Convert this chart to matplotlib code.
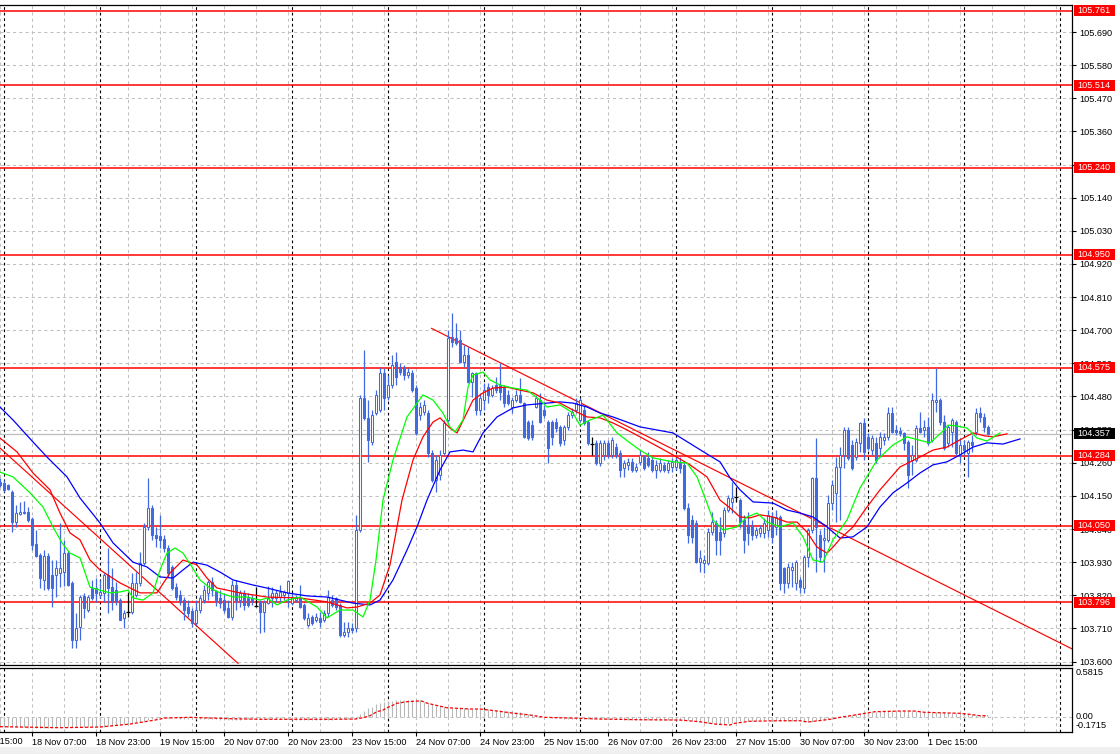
#!/usr/bin/env python3
"""
plot.py - H1 candle chart with Alligator lines, levels and a lower oscillator panel.
Writes out.png (1120x754).
"""

import numpy as np
import matplotlib
matplotlib.use("Agg")
import matplotlib.pyplot as plt
import matplotlib.transforms as mtransforms
from matplotlib.patches import Rectangle

plt.rcParams["font.family"] = ["Liberation Sans", "DejaVu Sans"]

# ---------------------------------------------------------------------------
# Candles (bar 0 = 17 Nov 23:00, one bar per hour, weekends skipped)
# ---------------------------------------------------------------------------
opens = [
    104.196, 104.193, 104.186, 104.163, 104.063, 104.090, 104.093, 104.097, 104.073, 103.990,
    103.954, 103.871, 103.950, 103.887, 103.887, 103.894, 103.897, 103.960, 103.861, 103.671,
    103.715, 103.818, 103.771, 103.844, 103.844, 103.821, 103.828, 103.887, 103.847, 103.837,
    103.804, 103.745, 103.765, 103.765, 103.821, 103.861, 103.927, 104.047, 104.110, 104.020,
    104.017, 104.007, 103.977, 103.914, 103.847, 103.821, 103.804, 103.781, 103.768, 103.728,
    103.771, 103.804, 103.828, 103.864, 103.834, 103.811, 103.804, 103.778, 103.748, 103.854,
    103.804, 103.828, 103.811, 103.811, 103.785, 103.794, 103.765, 103.794, 103.811, 103.811,
    103.814, 103.821, 103.828, 103.794, 103.804, 103.811, 103.788, 103.721, 103.748, 103.738,
    103.745, 103.738, 103.761, 103.804, 103.811, 103.788, 103.688, 103.698, 103.711, 103.711,
    104.037, 104.475, 104.409, 104.329, 104.425, 104.435, 104.558, 104.478, 104.518, 104.594,
    104.578, 104.575, 104.551, 104.558, 104.508, 104.418, 104.428, 104.425, 104.292, 104.203,
    104.219, 104.292, 104.402, 104.678, 104.674, 104.668, 104.594, 104.618, 104.528, 104.558,
    104.435, 104.468, 104.511, 104.485, 104.518, 104.518, 104.508, 104.485, 104.445, 104.468,
    104.485, 104.458, 104.395, 104.385, 104.445, 104.468, 104.435, 104.395, 104.395, 104.395,
    104.379, 104.336, 104.379, 104.418, 104.435, 104.402, 104.435, 104.395, 104.322, 104.326,
    104.259, 104.286, 104.326, 104.286, 104.312, 104.292, 104.243, 104.253, 104.263, 104.236,
    104.263, 104.279, 104.276, 104.269, 104.236, 104.236, 104.253, 104.236, 104.246, 104.246,
    104.259, 104.253, 104.110, 104.070, 104.060, 103.930, 103.927, 103.927, 104.030, 104.060,
    104.030, 104.027, 104.103, 104.130, 104.146, 104.136, 104.070, 104.053, 104.053, 104.020,
    104.027, 104.027, 104.037, 104.080, 104.047, 104.080, 103.911, 103.861, 103.904, 103.861,
    103.871, 103.844, 103.947, 104.037, 104.209, 104.020, 104.004, 104.004, 104.126, 104.160,
    104.246, 104.286, 104.369, 104.319, 104.279, 104.326, 104.392, 104.346, 104.302, 104.326,
    104.309, 104.336, 104.346, 104.425, 104.369, 104.365, 104.359, 104.329, 104.269, 104.269,
    104.375, 104.369, 104.379, 104.336, 104.462, 104.468, 104.395, 104.326, 104.362, 104.395,
    104.286, 104.319, 104.292, 104.329, 104.362, 104.425, 104.412, 104.379,
]
highs = [
    104.209, 104.203, 104.189, 104.170, 104.120, 104.130, 104.133, 104.113, 104.080, 104.037,
    103.960, 103.970, 103.960, 103.937, 103.937, 104.060, 104.004, 103.967, 103.867, 103.761,
    103.821, 103.828, 103.821, 103.871, 103.877, 103.871, 103.894, 103.977, 103.911, 103.864,
    103.811, 103.771, 103.831, 103.894, 103.897, 103.964, 104.060, 104.209, 104.120, 104.047,
    104.087, 104.020, 103.987, 103.921, 103.861, 103.837, 103.814, 103.804, 103.778, 103.804,
    103.821, 103.854, 103.871, 103.881, 103.837, 103.837, 103.828, 103.804, 103.871, 103.871,
    103.837, 103.837, 103.828, 103.821, 103.847, 103.804, 103.804, 103.851, 103.847, 103.837,
    103.854, 103.837, 103.871, 103.828, 103.821, 103.854, 103.794, 103.761, 103.755, 103.761,
    103.765, 103.771, 103.837, 103.821, 103.814, 103.794, 103.731, 103.731, 103.728, 104.087,
    104.485, 104.634, 104.468, 104.435, 104.501, 104.578, 104.575, 104.551, 104.618, 104.628,
    104.591, 104.585, 104.575, 104.568, 104.518, 104.462, 104.468, 104.435, 104.302, 104.286,
    104.302, 104.402, 104.701, 104.757, 104.724, 104.701, 104.651, 104.644, 104.561, 104.561,
    104.491, 104.525, 104.525, 104.518, 104.545, 104.591, 104.518, 104.501, 104.478, 104.501,
    104.541, 104.462, 104.402, 104.402, 104.485, 104.492, 104.452, 104.402, 104.402, 104.409,
    104.385, 104.385, 104.428, 104.442, 104.475, 104.475, 104.452, 104.402, 104.346, 104.336,
    104.336, 104.336, 104.336, 104.346, 104.326, 104.302, 104.269, 104.276, 104.276, 104.259,
    104.302, 104.286, 104.296, 104.279, 104.269, 104.276, 104.263, 104.269, 104.276, 104.279,
    104.279, 104.263, 104.126, 104.087, 104.070, 103.970, 103.954, 104.043, 104.097, 104.070,
    104.080, 104.113, 104.153, 104.196, 104.180, 104.143, 104.087, 104.097, 104.070, 104.047,
    104.053, 104.077, 104.103, 104.097, 104.103, 104.087, 103.914, 103.927, 103.930, 103.937,
    103.881, 103.954, 104.043, 104.213, 104.342, 104.037, 104.047, 104.153, 104.203, 104.279,
    104.312, 104.379, 104.379, 104.336, 104.342, 104.395, 104.409, 104.359, 104.352, 104.346,
    104.362, 104.359, 104.445, 104.445, 104.385, 104.379, 104.362, 104.336, 104.319, 104.385,
    104.428, 104.402, 104.412, 104.492, 104.575, 104.475, 104.418, 104.385, 104.409, 104.402,
    104.342, 104.336, 104.336, 104.352, 104.442, 104.445, 104.425, 104.385,
]
lows = [
    104.180, 104.163, 104.170, 104.030, 104.047, 104.087, 104.090, 104.063, 103.970, 103.947,
    103.844, 103.837, 103.837, 103.781, 103.814, 103.847, 103.851, 103.851, 103.645, 103.645,
    103.671, 103.745, 103.765, 103.804, 103.798, 103.811, 103.798, 103.761, 103.771, 103.788,
    103.738, 103.711, 103.748, 103.758, 103.814, 103.851, 103.921, 104.037, 104.004, 103.980,
    103.977, 103.964, 103.881, 103.837, 103.804, 103.788, 103.738, 103.748, 103.715, 103.721,
    103.761, 103.794, 103.804, 103.818, 103.785, 103.778, 103.761, 103.745, 103.738, 103.771,
    103.781, 103.771, 103.781, 103.788, 103.781, 103.695, 103.698, 103.791, 103.781, 103.798,
    103.798, 103.804, 103.781, 103.788, 103.798, 103.778, 103.738, 103.715, 103.721, 103.731,
    103.715, 103.731, 103.748, 103.781, 103.771, 103.682, 103.682, 103.682, 103.695, 103.698,
    104.030, 104.402, 104.263, 104.319, 104.418, 104.428, 104.435, 104.468, 104.508, 104.518,
    104.551, 104.535, 104.541, 104.495, 104.352, 104.402, 104.418, 104.279, 104.196, 104.163,
    104.203, 104.286, 104.395, 104.644, 104.651, 104.591, 104.578, 104.525, 104.478, 104.418,
    104.418, 104.435, 104.458, 104.478, 104.492, 104.468, 104.445, 104.452, 104.425, 104.462,
    104.458, 104.342, 104.336, 104.336, 104.442, 104.392, 104.409, 104.259, 104.319, 104.362,
    104.316, 104.319, 104.369, 104.409, 104.425, 104.395, 104.385, 104.319, 104.286, 104.253,
    104.249, 104.269, 104.276, 104.276, 104.276, 104.213, 104.213, 104.236, 104.229, 104.229,
    104.253, 104.236, 104.246, 104.229, 104.209, 104.229, 104.229, 104.226, 104.229, 104.236,
    104.226, 104.103, 103.994, 103.994, 103.927, 103.897, 103.894, 103.921, 104.020, 103.954,
    103.954, 104.014, 104.097, 104.093, 104.130, 104.043, 103.960, 103.987, 104.004, 104.010,
    104.014, 104.010, 104.014, 103.994, 104.020, 103.837, 103.828, 103.844, 103.847, 103.837,
    103.828, 103.828, 103.914, 104.027, 103.897, 103.930, 103.897, 103.997, 104.103, 104.063,
    104.070, 104.243, 104.269, 104.236, 104.269, 104.296, 104.269, 104.302, 104.286, 104.259,
    104.279, 104.319, 104.336, 104.359, 104.352, 104.349, 104.302, 104.176, 104.219, 104.263,
    104.359, 104.346, 104.319, 104.329, 104.428, 104.385, 104.302, 104.312, 104.312, 104.286,
    104.259, 104.286, 104.213, 104.296, 104.352, 104.395, 104.362, 104.352,
]
closes = [
    104.186, 104.170, 104.173, 104.063, 104.093, 104.097, 104.097, 104.070, 103.987, 103.950,
    103.877, 103.950, 103.844, 103.844, 103.911, 103.911, 103.960, 103.854, 103.671, 103.711,
    103.814, 103.778, 103.814, 103.811, 103.828, 103.831, 103.887, 103.844, 103.798, 103.798,
    103.738, 103.761, 103.765, 103.861, 103.861, 103.927, 104.047, 104.110, 104.020, 104.010,
    104.004, 103.977, 103.894, 103.844, 103.814, 103.798, 103.771, 103.761, 103.728, 103.771,
    103.811, 103.837, 103.864, 103.837, 103.804, 103.794, 103.771, 103.748, 103.854, 103.804,
    103.828, 103.788, 103.788, 103.798, 103.785, 103.765, 103.798, 103.811, 103.828, 103.828,
    103.831, 103.831, 103.867, 103.814, 103.811, 103.781, 103.745, 103.745, 103.728, 103.748,
    103.731, 103.761, 103.814, 103.788, 103.781, 103.688, 103.698, 103.711, 103.705, 104.037,
    104.475, 104.409, 104.336, 104.418, 104.485, 104.558, 104.475, 104.518, 104.585, 104.545,
    104.561, 104.551, 104.561, 104.501, 104.359, 104.445, 104.452, 104.292, 104.203, 104.269,
    104.286, 104.392, 104.674, 104.661, 104.658, 104.594, 104.618, 104.528, 104.558, 104.435,
    104.475, 104.501, 104.485, 104.508, 104.501, 104.495, 104.458, 104.458, 104.468, 104.485,
    104.462, 104.346, 104.342, 104.346, 104.475, 104.395, 104.418, 104.309, 104.346, 104.375,
    104.326, 104.379, 104.418, 104.428, 104.458, 104.468, 104.392, 104.326, 104.322, 104.259,
    104.326, 104.326, 104.286, 104.336, 104.286, 104.236, 104.259, 104.263, 104.236, 104.246,
    104.286, 104.243, 104.253, 104.236, 104.253, 104.259, 104.236, 104.259, 104.263, 104.269,
    104.243, 104.110, 104.020, 104.014, 103.930, 103.944, 103.937, 104.030, 104.063, 104.004,
    104.004, 104.103, 104.143, 104.143, 104.146, 104.063, 104.004, 104.027, 104.020, 104.037,
    104.043, 104.060, 104.087, 104.014, 104.080, 103.861, 103.861, 103.914, 103.914, 103.930,
    103.847, 103.947, 104.037, 104.209, 104.047, 103.947, 104.010, 104.126, 104.186, 104.246,
    104.286, 104.369, 104.276, 104.243, 104.329, 104.392, 104.296, 104.309, 104.342, 104.269,
    104.346, 104.346, 104.425, 104.362, 104.362, 104.359, 104.326, 104.219, 104.286, 104.375,
    104.362, 104.379, 104.326, 104.468, 104.468, 104.395, 104.309, 104.379, 104.402, 104.292,
    104.319, 104.302, 104.329, 104.319, 104.425, 104.412, 104.379, 104.357,
]

# Alligator lines (bar position, price)
jaw_x = [0, 3.25, 8.25, 11.75, 16.75, 20, 25, 28.25, 33.25, 36.75,
         40, 43.25, 45.75, 48.25, 51.75, 55, 58.25, 63.25, 66.75, 71.75,
         76.75, 81.75, 85, 88.25, 92.5, 95, 98.25, 101.75, 104.25, 106.75,
         110, 112.5, 115.75, 118.25, 120.75, 124.25, 128.25, 131.75, 136.75, 140,
         143.25, 146.75, 150, 153.25, 156.75, 160, 168.25, 176.75, 180, 182.5,
         185, 188.25, 193.25, 196.75, 200, 203.25, 206.75, 210, 213.25, 216.75,
         220, 223.25, 226.75, 230, 233.25, 236.75, 240, 243.25, 246.75, 250.75, 255]
jaw_y = [104.445, 104.402, 104.329, 104.279, 104.213, 104.143, 104.060, 103.994, 103.930, 103.914,
         103.881, 103.877, 103.904, 103.930, 103.920, 103.897, 103.871, 103.854, 103.844, 103.828,
         103.818, 103.814, 103.804, 103.794, 103.788, 103.804, 103.871, 103.970, 104.047, 104.136,
         104.236, 104.296, 104.302, 104.296, 104.359, 104.412, 104.442, 104.452, 104.458, 104.462,
         104.458, 104.445, 104.425, 104.412, 104.395, 104.379, 104.359, 104.289, 104.263, 104.210,
         104.170, 104.130, 104.126, 104.103, 104.093, 104.080, 104.047, 104.010, 104.014, 104.047,
         104.113, 104.160, 104.193, 104.226, 104.253, 104.263, 104.286, 104.312, 104.326, 104.322, 104.339]

teeth_x = [0, 4.25, 8.25, 12.5, 15, 17.5, 20, 22.5, 25, 30,
           35, 39.25, 42.5, 45.75, 49.25, 51.75, 54.25, 60, 66.75, 75,
           81.75, 86.75, 89.25, 92.5, 95, 97.5, 100.5, 103.25, 105.75, 108.25,
           110, 112.5, 114.25, 118.25, 120.75, 123.25, 126.75, 130, 133.25, 136.75,
           140, 143.25, 146.75, 150, 153.25, 156.75, 160, 168.25, 172.5, 176.75,
           180, 182.5, 185, 187.5, 190, 193.25, 196.75, 199.25, 201.75, 204.25,
           206.75, 208.25, 210, 213.25, 216.75, 220, 225, 230, 233.25, 236.75,
           240, 243.25, 246.25, 248.25, 251.75]
teeth_y = [104.342, 104.296, 104.226, 104.170, 104.093, 104.027, 104.004, 103.937, 103.904, 103.861,
           103.828, 103.828, 103.894, 103.937, 103.921, 103.877, 103.844, 103.828, 103.814, 103.811,
           103.798, 103.778, 103.781, 103.794, 103.821, 103.921, 104.136, 104.269, 104.346, 104.395,
           104.409, 104.375, 104.359, 104.468, 104.492, 104.508, 104.511, 104.501, 104.492, 104.468,
           104.458, 104.435, 104.412, 104.409, 104.392, 104.369, 104.346, 104.286, 104.253, 104.213,
           104.136, 104.110, 104.080, 104.077, 104.087, 104.080, 104.063, 104.063, 104.030, 103.980,
           103.960, 103.980, 104.007, 104.047, 104.113, 104.170, 104.246, 104.279, 104.302, 104.312,
           104.336, 104.359, 104.349, 104.346, 104.356]

lips_x = [0, 3.25, 7.5, 10.75, 13.25, 15.5, 17.5, 20, 22.5, 25,
          27.5, 30, 32, 33.25, 35.75, 38.25, 40, 41.75, 43.75, 45.75,
          48, 50, 52.5, 55, 58.25, 61.75, 65, 66.75, 69.25, 71.75,
          75, 79.25, 81.75, 85, 88.25, 90.75, 92.5, 94, 95.75, 98.25,
          101.75, 105.75, 108.25, 110.75, 112.5, 113.75, 115.75, 117, 118.25, 120.75,
          122.5, 125, 128.25, 131.75, 135, 136.75, 140, 143.25, 145, 147.5,
          150.75, 154.25, 157.5, 160, 163.25, 168.25, 171.75, 174.25, 176.75, 178.25,
          180.75, 184.25, 186.75, 189.25, 191.75, 195, 198.25, 200.75, 203.25, 205.75,
          208.25, 211.75, 215, 219.25, 223.25, 226.75, 229.5, 232.5, 235.5, 237,
          239.25, 241.75, 244.25, 246.75, 250]
lips_y = [104.229, 104.213, 104.160, 104.113, 104.047, 103.994, 103.960, 103.944, 103.847, 103.837,
          103.828, 103.831, 103.837, 103.811, 103.804, 103.828, 103.904, 103.960, 103.977, 103.960,
          103.914, 103.871, 103.844, 103.828, 103.814, 103.814, 103.804, 103.811, 103.788, 103.804,
          103.814, 103.781, 103.745, 103.771, 103.771, 103.748, 103.804, 103.937, 104.136, 104.269,
          104.412, 104.485, 104.468, 104.425, 104.379, 104.362, 104.402, 104.511, 104.551, 104.561,
          104.535, 104.518, 104.508, 104.501, 104.468, 104.445, 104.452, 104.425, 104.385, 104.402,
          104.418, 104.359, 104.326, 104.302, 104.276, 104.263, 104.259, 104.213, 104.126, 104.070,
          104.037, 104.047, 104.080, 104.093, 104.063, 104.047, 104.060, 104.014, 103.937, 103.930,
          104.004, 104.070, 104.176, 104.269, 104.319, 104.346, 104.336, 104.326, 104.362, 104.385,
          104.382, 104.375, 104.342, 104.332, 104.359]

# Drawn objects: horizontal levels and two trend lines
levels = [105.761, 105.514, 105.240, 104.950, 104.575, 104.284, 104.050, 103.796]
bid = 104.357
trend1_x = [-10, 59.5]
trend1_y = [104.429, 103.594]
trend2_x = [107.9, 268]
trend2_y = [104.706, 103.642]

# Time axis labels
time_ticks = [-8, 8, 24, 40, 56, 72, 88, 104, 120, 136, 152, 168, 184, 200, 216, 232]
time_labels = ["17 Nov 15:00", "18 Nov 07:00", "18 Nov 23:00", "19 Nov 15:00", "20 Nov 07:00",
               "20 Nov 23:00", "23 Nov 15:00", "24 Nov 07:00", "24 Nov 23:00", "25 Nov 15:00",
               "26 Nov 07:00", "26 Nov 23:00", "27 Nov 15:00", "30 Nov 07:00", "30 Nov 23:00",
               "1 Dec 15:00"]
day_starts = [1, 25, 49, 73, 97, 121, 145, 169, 193, 217, 241, 265]

# Lower oscillator: histogram per bar plus its signal line
hist = [
    -0.108, -0.110, -0.112, -0.113, -0.115, -0.116, -0.118, -0.120, -0.121, -0.122,
    -0.121, -0.120, -0.120, -0.119, -0.118, -0.118, -0.117, -0.116, -0.115, -0.115,
    -0.114, -0.113, -0.113, -0.112, -0.111, -0.110, -0.108, -0.105, -0.100, -0.095,
    -0.090, -0.082,
    -0.075, -0.066, -0.057, -0.048, -0.040, -0.031, -0.022, -0.015, -0.008,
    -0.006, -0.008, -0.010, -0.012, -0.014, -0.016, -0.018,
    -0.020, -0.021, -0.022, -0.022, -0.023, -0.024, -0.024, -0.025, -0.025, -0.026,
    -0.026, -0.025, -0.025, -0.024, -0.024, -0.023, -0.023, -0.022, -0.022, -0.022,
    -0.022, -0.023, -0.023, -0.024, -0.024, -0.025, -0.025, -0.026, -0.026, -0.027,
    -0.027, -0.027, -0.026, -0.026, -0.025, -0.025, -0.024, -0.024, -0.023, -0.023,
    -0.022, -0.015,
    0.036, 0.075, 0.110, 0.126, 0.154, 0.166, 0.185, 0.193, 0.193, 0.200,
    0.200, 0.205, 0.205, 0.205, 0.205, 0.200, 0.185, 0.166, 0.154, 0.140,
    0.130, 0.126, 0.120, 0.115, 0.115, 0.110, 0.108, 0.106, 0.104, 0.102,
    0.100, 0.098, 0.095, 0.092, 0.088, 0.084, 0.080, 0.075, 0.070, 0.064,
    0.058, 0.050, 0.043, 0.035, 0.026, 0.017,
    0.008, 0.002, -0.004, -0.008, -0.011, -0.013, -0.015, -0.016, -0.017, -0.018,
    -0.019, -0.020, -0.020, -0.021, -0.022, -0.022, -0.023, -0.023, -0.024, -0.024,
    -0.025, -0.025, -0.026, -0.026, -0.027, -0.027, -0.028, -0.028, -0.029, -0.029,
    -0.030, -0.030, -0.031, -0.031, -0.032, -0.033, -0.035,
    -0.040, -0.046, -0.052, -0.058, -0.064, -0.069, -0.073, -0.075, -0.074, -0.068,
    -0.060, -0.052, -0.046,
    -0.042, -0.040, -0.038, -0.037, -0.036, -0.036, -0.036, -0.037, -0.037, -0.038,
    -0.038, -0.039, -0.040, -0.042, -0.045, -0.049, -0.053, -0.052, -0.045, -0.036,
    -0.027, -0.018, -0.010, -0.002, 0.006,
    0.014, 0.022, 0.030, 0.038, 0.045, 0.052, 0.058, 0.063, 0.067, 0.070,
    0.072, 0.074, 0.075, 0.076, 0.076, 0.076, 0.075, 0.075, 0.074, 0.072,
    0.069, 0.066, 0.064, 0.062, 0.060, 0.058, 0.056, 0.054, 0.052, 0.049,
    0.045, 0.041, 0.037, 0.033, 0.028, 0.024, 0.020,
]
sig_x = [0, 15, 25, 32.5, 38.75, 41.25, 47.5, 57.5, 65, 82.5,
         88.75, 90.8, 92.5, 94.2, 95.8, 96.7, 98, 99.2, 101.7, 104.2,
         105.4, 106.7, 108.7, 111.7, 117.5, 120, 123.7, 127.5, 132.5, 136.2,
         142.5, 150, 160, 170, 175, 178.7, 182.5, 183.7, 187.5, 195,
         200, 202, 207.5, 210, 213.7, 216.2, 218.7, 225, 228.7, 231.2,
         240, 242.5, 245, 247]
sig_y = [-0.109, -0.121, -0.113, -0.078, -0.031, -0.007, 0.001, -0.015, -0.022, -0.022,
         -0.019, -0.004, 0.020, 0.067, 0.087, 0.114, 0.138, 0.166, 0.185, 0.193,
         0.193, 0.169, 0.146, 0.114, 0.099, 0.099, 0.079, 0.055, 0.028, 0.001,
         -0.007, -0.019, -0.027, -0.031, -0.051, -0.078, -0.089, -0.069, -0.045, -0.039,
         -0.039, -0.054, -0.022, 0.001, 0.028, 0.048, 0.067, 0.075, 0.075, 0.060,
         0.048, 0.036, 0.020, 0.020]

# ---------------------------------------------------------------------------
# Styling
# ---------------------------------------------------------------------------
CANDLE = "#4169E1"
GRID = "#C0C0C0"
FS = 6.6
W, H = 1120, 754
XMAX = 268
PMIN, PMAX = 103.5885, 105.7797
OMIN, OMAX = -0.1715, 0.5815


def style_panel(a):
    a.set_xlim(0, XMAX)
    a.spines["left"].set_visible(False)
    for s in ("top", "bottom", "right"):
        a.spines[s].set_linewidth(0.9)
        a.spines[s].set_color("black")
    for gx in range(0, XMAX + 1, 8):
        a.axvline(gx, color=GRID, lw=0.75, ls=(0, (3, 3)), zorder=0.5)
    for dx in day_starts:
        a.axvline(dx, color="black", lw=0.8, ls=(0, (2.5, 2.5)), zorder=0.6)


fig = plt.figure(figsize=(W / 100, H / 100), dpi=100)
fig.patch.set_facecolor("white")
ax = fig.add_axes([0, 1 - 665 / H, 1072 / W, 660 / H])
axi = fig.add_axes([0, 1 - 732 / H, 1072 / W, 64 / H])
fig.patches.append(Rectangle((0, 0), 1, 7 / H, transform=fig.transFigure,
                             facecolor="#F0F0F0", edgecolor="none"))

# ---------------------------------------------------------------------------
# Main price panel
# ---------------------------------------------------------------------------
style_panel(ax)
ax.set_ylim(PMIN, PMAX)
price_ticks = np.round(103.6 + 0.11 * np.arange(20), 3)
ax.set_yticks(price_ticks)
ax.set_yticklabels([f"{p:.3f}" for p in price_ticks])
ax.yaxis.tick_right()
ax.tick_params(axis="y", direction="out", length=3, width=0.8, pad=2,
               labelsize=FS, colors="black")
ax.tick_params(axis="x", bottom=False, labelbottom=False)
for p in price_ticks:
    ax.axhline(p, color=GRID, lw=0.75, ls=(0, (3, 3)), zorder=0.5)

# levels, bid line, trend lines
for p in levels:
    ax.axhline(p, color="red", lw=1.1, zorder=2)
ax.axhline(bid, color="#BDBDBD", lw=0.9, zorder=1.9)
ax.plot(trend1_x, trend1_y, color="red", lw=0.85, zorder=2.1)
ax.plot(trend2_x, trend2_y, color="red", lw=0.85, zorder=2.1)

# candles
x = np.arange(len(opens))
o = np.array(opens)
h = np.array(highs)
l = np.array(lows)
c = np.array(closes)
doji = np.isclose(o, c)
bull = (c > o) & ~doji
bear = (c < o) & ~doji

ax.vlines(x[~doji], l[~doji], h[~doji], color=CANDLE, lw=0.9, zorder=3)
ax.vlines(x[doji], l[doji], h[doji], color="black", lw=0.9, zorder=3)
ax.hlines(o[doji], x[doji] - 0.4, x[doji] + 0.4, color="black", lw=0.9, zorder=3.1)
ax.bar(x[bull], (c - o)[bull], bottom=o[bull], width=0.5, facecolor="white",
       edgecolor=CANDLE, linewidth=0.75, zorder=3.2)
ax.bar(x[bear], (o - c)[bear], bottom=c[bear], width=0.5, facecolor=CANDLE,
       edgecolor=CANDLE, linewidth=0.75, zorder=3.2)

# Alligator
ax.plot(jaw_x, jaw_y, color="#0000FF", lw=0.9, zorder=4)
ax.plot(teeth_x, teeth_y, color="#FF0000", lw=0.9, zorder=4.1)
ax.plot(lips_x, lips_y, color="#00FF00", lw=0.9, zorder=4.2)

# price tags on the right scale
tag_tf = mtransforms.blended_transform_factory(ax.transAxes, ax.transData)
tag_h = 11 / 660 * (PMAX - PMIN)
for p, fc in [(v, "#FF0000") for v in levels] + [(bid, "black")]:
    ax.add_patch(Rectangle((1074 / 1072, p - tag_h / 2), 41 / 1072, tag_h,
                           transform=tag_tf, facecolor=fc, edgecolor="none",
                           clip_on=False, zorder=10))
    ax.text(1077 / 1072, p, f"{p:.3f}", transform=tag_tf, color="white",
            fontsize=FS, va="center", ha="left", clip_on=False, zorder=11)

# ---------------------------------------------------------------------------
# Oscillator panel
# ---------------------------------------------------------------------------
style_panel(axi)
axi.set_ylim(OMIN, OMAX)
axi.set_yticks([])
axi.axhline(0, color=GRID, lw=0.75, ls=(0, (3, 3)), zorder=0.5)
axi.vlines(np.arange(len(hist)), 0, hist, color="#B8B8B8", lw=0.8, zorder=1)
axi.plot(sig_x, sig_y, color="red", lw=0.9, ls=(0, (2.5, 1.5)), zorder=2)

lab_tf = mtransforms.blended_transform_factory(axi.transAxes, axi.transData)
axi.text(1076 / 1072, 0.5815, "0.5815", transform=lab_tf, fontsize=FS,
         va="top", ha="left", clip_on=False)
axi.text(1076 / 1072, 0.005, "0.00", transform=lab_tf, fontsize=FS,
         va="center", ha="left", clip_on=False)
axi.text(1076 / 1072, -0.095, "-0.1715", transform=lab_tf, fontsize=FS,
         va="center", ha="left", clip_on=False)

visible = [(t, s) for t, s in zip(time_ticks, time_labels) if t >= 0]
axi.set_xticks([t for t, _ in visible])
axi.set_xticklabels([s for _, s in visible], ha="left")
axi.tick_params(axis="x", direction="out", length=3, width=0.8, pad=1.5,
                labelsize=FS, colors="black")
# first label starts left of the canvas and is cut by the edge
cut_tf = mtransforms.blended_transform_factory(axi.transData, axi.transAxes)
for t, s in zip(time_ticks, time_labels):
    if t < 0:
        axi.text(t, -5.2 / 64, s, transform=cut_tf, fontsize=FS,
                 va="top", ha="left", clip_on=False)

fig.savefig("out.png", dpi=100)
print("Created: out.png")
